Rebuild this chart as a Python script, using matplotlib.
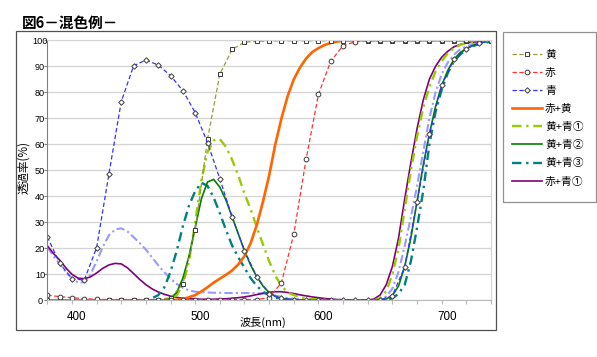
import matplotlib
matplotlib.use("Agg")
import matplotlib.pyplot as plt
from matplotlib.patches import Rectangle
from matplotlib.transforms import ScaledTranslation

plt.rcParams["font.family"] = ["Noto Sans CJK JP", "DejaVu Sans"]

# wavelength grids (nm)
WL10 = list(range(380, 741, 10))
WL5 = list(range(380, 741, 5))

# single filters, read at every 10 nm (marker points)
YELLOW = [0.2, 0.2, 0.2, 0.2, 0.2, 0.2, 0.2, 0.2, 0.2, 0.3,
          1.0, 6.2, 27.0, 62.0, 87.0, 96.5, 99.3, 99.6, 99.7] + [99.8] * 18
RED = [2.0, 1.4, 1.0, 0.6, 0.4] + [0.3] * 13 + \
      [1.0, 6.8, 25.5, 54.3, 79.2, 92.0, 97.9, 99.5] + [100.0] * 11
BLUE = [24.5, 14.2, 8.3, 7.8, 20.2, 48.6, 76.4, 90.2, 92.4, 90.5,
        86.4, 80.6, 72.2, 60.6, 46.7, 32.0, 19.1, 9.1, 2.4, 0.8,
        0.3, 0.1, 0.0, 0.0, 0.0, 0.0, 0.0, 0.2, 1.8, 12.9,
        37.8, 64.0, 82.7, 92.7, 96.8, 98.8, 99.8]

# mixtures, read at every 5 nm
RED_YELLOW = [0.0] * 21 + \
    [0.2, 0.5, 1.2, 2.0, 3.4, 5.0, 6.8, 8.3, 9.8, 11.5,
     13.8, 17.0, 22.0, 29.0, 38.0, 48.0, 60.0, 70.0, 78.5, 85.0,
     89.5, 93.0, 95.5, 97.0, 98.2, 99.0, 99.5, 99.8] + [100.0] * 24
YB1 = [0.0] * 20 + \
    [0.5, 2.0, 6.0, 15.0, 30.0, 46.0, 57.0, 61.5, 62.0, 59.0,
     54.0, 48.0, 41.0, 35.0, 28.0, 21.5, 15.0, 9.5, 5.5, 3.0,
     2.0, 1.2, 0.8, 0.5, 0.3, 0.2, 0.1] + [0.0] * 7 + \
    [0.8, 3.5, 10.0, 20.0, 35.0, 50.0, 63.0, 74.0, 82.0, 88.0,
     92.0, 95.0, 97.0, 98.2, 99.0, 99.4, 99.6, 99.8, 99.9]
YB2 = [0.0] * 19 + \
    [0.2, 0.8, 3.0, 8.5, 17.0, 28.0, 39.0, 45.5, 46.5, 43.5,
     38.5, 32.0, 25.5, 19.0, 13.5, 9.0, 5.5, 3.0, 1.5, 0.7,
     0.4, 0.2, 0.1] + [0.0] * 13 + \
    [0.5, 1.8, 5.5, 13.0, 24.0, 38.0, 52.0, 64.0, 74.5, 82.7,
     88.5, 92.7, 95.3, 96.8, 98.0, 98.8, 99.4, 99.8]
YB3 = [0.0] * 16 + \
    [0.3, 0.8, 2.0, 5.0, 11.0, 19.0, 28.5, 36.5, 42.0, 45.2,
     44.0, 39.5, 33.5, 27.0, 21.0, 16.5, 12.5, 8.5, 5.5, 3.3,
     1.9, 1.0, 0.5, 0.2] + [0.0] * 15 + \
    [0.1, 0.8, 2.5, 6.0, 15.0, 28.0, 42.0, 60.0, 72.5, 81.0,
     87.5, 92.0, 94.5, 96.5, 97.7, 98.5, 99.0, 99.5]
RB1 = [21.0, 18.0, 15.5, 12.5, 10.0, 8.5, 8.3, 9.0, 10.5, 12.3,
       13.6, 14.2, 14.0, 12.5, 10.3, 8.0, 6.0, 4.4, 3.2, 2.3,
       1.6, 1.1, 0.8, 0.6, 0.5, 0.4, 0.4, 0.4, 0.5, 0.6,
       0.8, 1.0, 1.3, 1.7, 2.2, 2.7, 3.1, 3.3, 3.3, 3.0,
       2.6, 2.1, 1.7, 1.3, 1.0, 0.7, 0.5, 0.3, 0.2, 0.1] + [0.0] * 3 + \
      [0.5, 2.0, 6.0, 13.0, 24.0, 39.0, 53.0, 66.0, 77.0, 85.0,
       90.0, 93.5, 95.8, 97.5, 98.4, 99.0, 99.3, 99.5, 99.7, 99.8]
RB2 = [20.5, 17.0, 14.0, 11.0, 8.5, 6.8, 7.0, 10.0, 15.0, 20.5,
       25.0, 27.2, 27.7, 26.5, 24.3, 22.0, 19.5, 16.5, 13.5, 10.8,
       8.3, 6.3, 4.8, 3.8, 3.3, 3.1, 3.0, 2.9, 2.9, 2.8,
       2.8, 2.8, 2.8, 2.8, 2.7, 2.6, 2.3, 1.8, 1.3, 0.9,
       0.6, 0.4, 0.3, 0.2, 0.1] + [0.0] * 9 + \
      [0.3, 1.5, 4.5, 11.0, 21.0, 32.0, 44.0, 57.0, 70.0, 80.0,
       87.0, 91.5, 94.5, 96.5, 97.7, 98.5, 99.0, 99.4, 99.7]

LEGEND_ORDER = ["黄", "赤", "青", "赤+黄", "黄+青①", "黄+青②", "黄+青③", "赤+青①"]

W, H = 597, 357

fig = plt.figure(figsize=(W / 100, H / 100), dpi=100)
fig.patch.set_facecolor("white")

# outer chart frame and legend frame, in pixels
fig.patches.append(Rectangle((16 / W, 1 - 330 / H), 480 / W, 299 / H,
                             transform=fig.transFigure, fill=False,
                             edgecolor="#505050", lw=0.9))
fig.patches.append(Rectangle((502.5 / W, 1 - 201.5 / H), 93 / W, 170 / H,
                             transform=fig.transFigure, fill=False,
                             edgecolor="#909090", lw=0.9))

ax = fig.add_axes([47.3 / W, 1 - 300.3 / H, 443.7 / W, 260 / H])

handles = {}
handles["_rb2"], = ax.plot(WL5, RB2, color="#9999ff", lw=1.5, dashes=(4, 1.5, 1, 1.5))
handles["赤+青①"], = ax.plot(WL5, RB1, color="#800080", lw=1.2)
handles["黄+青③"], = ax.plot(WL5, YB3, color="#008080", lw=1.7, dashes=(4, 2, 1, 2))
handles["黄+青①"], = ax.plot(WL5, YB1, color="#99cc00", lw=1.7, dashes=(4, 2, 1, 2))
handles["黄+青②"], = ax.plot(WL5, YB2, color="#008000", lw=1.2)
handles["赤+黄"], = ax.plot(WL5, RED_YELLOW, color="#ff6600", lw=1.9)
handles["黄"], = ax.plot(WL10, YELLOW, color="#9a9a3a", lw=0.9, dashes=(3.5, 2),
                        marker="s", ms=3.4, mfc="white", mec="#3a3a3a", mew=0.7)
handles["赤"], = ax.plot(WL10, RED, color="#ff3333", lw=0.9, dashes=(3.5, 2),
                        marker="o", ms=3.4, mfc="white", mec="#3a3a3a", mew=0.7)
handles["青"], = ax.plot(WL10, BLUE, color="#3333ff", lw=0.9, dashes=(3.5, 2),
                        marker="D", ms=2.8, mfc="white", mec="#3a3a3a", mew=0.7)

ax.set_xlim(380, 740)
ax.set_ylim(0, 100)

xt = list(range(380, 741, 20))
ax.set_xticks(xt)
ax.set_xticklabels([str(v) if v % 100 == 0 else "" for v in xt])
ax.set_yticks(range(0, 101, 10))
ax.tick_params(axis="x", direction="out", length=3, color="#b8b8b8",
               labelsize=8.4, pad=4.5)
ax.tick_params(axis="y", direction="out", length=2, color="#808080",
               labelsize=6.6, pad=3.2)
for lbl in ax.get_yticklabels():
    lbl.set_horizontalalignment("center")
    lbl.set_family("Liberation Sans")
shift = ScaledTranslation(5 / 100, 0, fig.dpi_scale_trans)
for lbl in ax.get_xticklabels():
    lbl.set_family("Liberation Sans")
    lbl.set_transform(lbl.get_transform() + shift)

ax.yaxis.grid(True, color="#d4d4d4", lw=0.9)
ax.set_axisbelow(True)
ax.spines["left"].set_color("#808080")
ax.spines["bottom"].set_color("#b8b8b8")
ax.spines["top"].set_color("#d4d4d4")
ax.spines["right"].set_color("#d4d4d4")

ax.set_xlabel("波長(nm)", fontsize=8)
ax.xaxis.set_label_coords((263 - 47.3) / 443.7, -(322.5 - 300.3) / 260)
ax.xaxis.label.set_verticalalignment("center")
ax.set_ylabel("透過率(%)", fontsize=8.3)
ax.yaxis.set_label_coords((24 - 47.3) / 443.7, (300.3 - 168) / 260)
ax.yaxis.label.set_verticalalignment("center")

fig.text(21.5 / W, 1 - 23.3 / H, "図6－混色例－", fontsize=10.5,
         fontweight="bold", ha="left", va="center")

ax.legend([handles[k] for k in LEGEND_ORDER], LEGEND_ORDER,
          loc="upper left", bbox_to_anchor=(511.5 / W, 1 - 49.5 / H),
          bbox_transform=fig.transFigure, frameon=False, borderpad=0,
          borderaxespad=0, fontsize=7.8, handlelength=2.85,
          handletextpad=0.25, labelspacing=0.75, numpoints=1)

fig.savefig("out.png", dpi=100)
